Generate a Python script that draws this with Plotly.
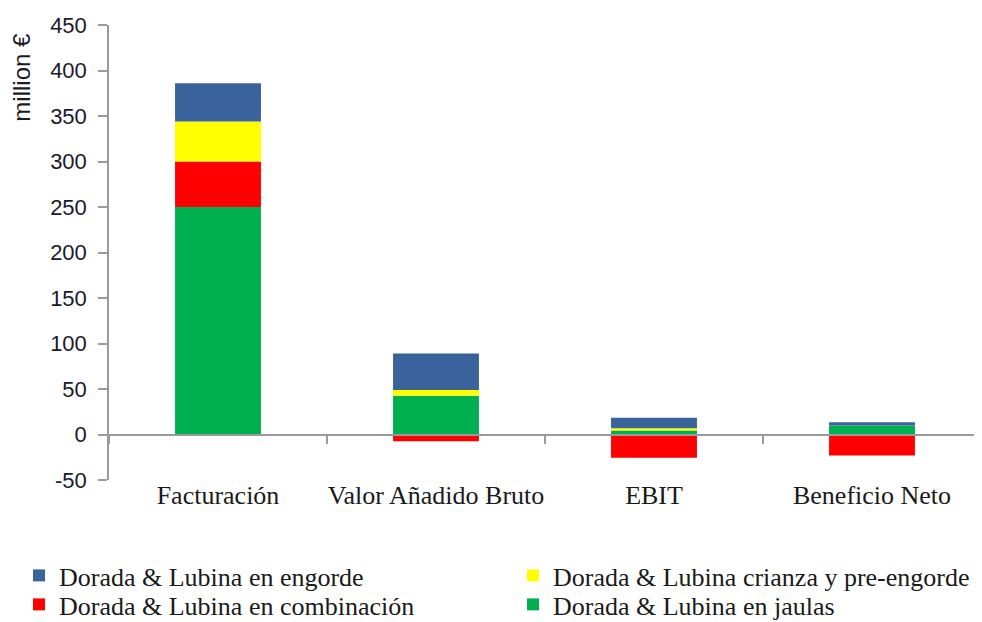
import plotly.graph_objects as go

categories = ["Facturación", "Valor Añadido Bruto", "EBIT", "Beneficio Neto"]
jaulas = [250, 42.5, 4.5, 10]
combinacion = [50, -7.5, -25.5, -23]
crianza = [44, 6.5, 2.5, 0]
engorde = [42, 40, 11.5, 3.5]
y_tickvals = [-50, 0, 50, 100, 150, 200, 250, 300, 350, 400, 450]
y_ticktext = ["-50", "0", "50", "100", "150", "200", "250", "300", "350", "400", "450"]

series = [
    ("Dorada & Lubina en jaulas", jaulas, "#00B050", "legend4"),
    ("Dorada & Lubina en combinación", combinacion, "#FF0000", "legend3"),
    ("Dorada & Lubina crianza y pre-engorde", crianza, "#FFFF00", "legend2"),
    ("Dorada & Lubina en engorde", engorde, "#3A639B", "legend"),
]

fig = go.Figure()
for name, vals, color, lg in series:
    fig.add_trace(go.Bar(
        x=categories, y=vals, name=name, legend=lg,
        marker=dict(color=color, line=dict(width=0)),
    ))

axis_grey = "#9A9A9A"
legend_font = dict(family="Liberation Serif", size=26, color="#1a1a1a")
W, H = 974, 614


def legend_box(x_px, y_frac):
    return dict(
        orientation="v", xref="container", yref="container",
        x=x_px / W, y=y_frac, xanchor="left", yanchor="top",
        font=legend_font, tracegroupgap=0, bgcolor="rgba(0,0,0,0)",
    )


fig.update_layout(
    barmode="relative",
    bargap=0.606,
    width=W, height=H,
    margin=dict(l=101, r=1, t=17, b=142, autoexpand=False),
    plot_bgcolor="white", paper_bgcolor="white",
    showlegend=True,
    legend=legend_box(11, 0.114),
    legend2=legend_box(505, 0.114),
    legend3=legend_box(11, 0.0668),
    legend4=legend_box(505, 0.0668),
    xaxis=dict(
        anchor="free", position=0.1,
        showline=True, linecolor=axis_grey, linewidth=1.5,
        ticks="outside", tickson="boundaries", ticklen=9, tickcolor=axis_grey, tickwidth=1.5,
        ticklabelstandoff=38, tickangle=0,
        tickfont=dict(family="Liberation Serif", size=26, color="#1a1a1a"),
        showgrid=False, zeroline=False,
    ),
    yaxis=dict(
        range=[-50, 450], tickmode="array", tickvals=y_tickvals, ticktext=y_ticktext,
        showline=True, linecolor=axis_grey, linewidth=1.5,
        ticks="outside", ticklen=9, tickcolor=axis_grey, tickwidth=1.5,
        ticklabelstandoff=7,
        tickfont=dict(family="Liberation Sans", size=22, color="#1a1a2a"),
        showgrid=False, zeroline=False,
    ),
    annotations=[dict(
        text="million €", textangle=-90, xref="paper", yref="paper",
        x=-0.1, y=0.886, xanchor="center", yanchor="middle", showarrow=False,
        font=dict(family="Liberation Sans", size=24, color="#1a1a2a"),
    )],
)

fig.write_html("out.html")
